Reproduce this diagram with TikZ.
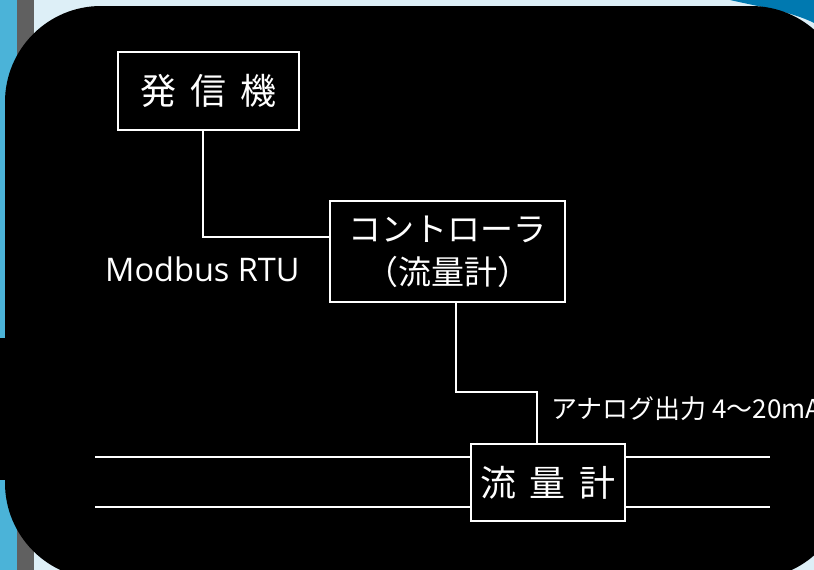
\documentclass[tikz,border=0pt]{standalone}
\usepackage{fontspec}
\newfontfamily\jp{Noto Sans CJK JP}
\newfontfamily\lat{Open Sans}
\usetikzlibrary{positioning}
\definecolor{skybg}{HTML}{DDEFF7}
\definecolor{stripblue}{HTML}{4BB3D8}
\definecolor{stripgrey}{HTML}{606060}
\definecolor{capblue}{HTML}{0079B0}
\newcommand{\jgap}{\hspace{14pt}}

\begin{document}
\begin{tikzpicture}[x=1pt, y=-1pt,
    box/.style={draw=white, line width=2.3pt, fill=black, text=white, inner sep=0pt},
    wire/.style={draw=white, line width=2pt},
    pipe/.style={draw=white, line width=1.7pt}]
    \useasboundingbox (0,0) rectangle (814,570);
    \clip (0,0) rectangle (814,570);

    % slide background
    \fill[skybg] (0,0) rectangle (814,570);
    \fill[stripblue] (0,0) rectangle (17,570);
    \fill[stripgrey] (17,0) rectangle (34,570);
    \fill[capblue] (730,0) .. controls (765,8) and (795,12) .. (820,26) -- (820,0) -- cycle;
    \fill[black, rounded corners=96pt] (5,6) rectangle (847,579);
    \fill[black] (0,338) rectangle (10,480);

    % pipe
    \coordinate (pipeAL) at (95,457);
    \coordinate (pipeAR) at (770,457);
    \coordinate (pipeBL) at (95,507);
    \coordinate (pipeBR) at (770,507);
    \draw[pipe] (pipeAL) -- (pipeAR);
    \draw[pipe] (pipeBL) -- (pipeBR);

    \node[box, minimum width=181pt, minimum height=78pt, font=\jp\fontsize{36}{40}\selectfont] (sender) at (208.5,91) {発\jgap 信\jgap 機};
    \node[box, minimum width=235pt, minimum height=101pt, align=center, font=\jp\fontsize{33}{43}\selectfont] (ctrl) at (447.5,251.5) {コントローラ\\（流量計）};
    \node[box, minimum width=154pt, minimum height=77pt, font=\jp\fontsize{36}{40}\selectfont] (meter) at (548,482.5) {流\jgap 量\jgap 計};

    \node[text=white, inner sep=0pt, anchor=base west, font=\lat\fontsize{32.5}{38}\selectfont] (modbus) at (105,281) {Modbus RTU};
    \node[text=white, inner sep=0pt, anchor=west, font=\jp\fontsize{26}{30}\selectfont] (analog) at (551,409) {アナログ出力 4～20mA};

    \coordinate (sendfoot) at ([xshift=-5.5pt]sender.south);
    \draw[wire] (sendfoot) |- ([yshift=14.5pt]ctrl.west);

    \coordinate (ctrlfoot) at ([xshift=8.5pt]ctrl.south);
    \coordinate (meterhead) at ([xshift=-11pt]meter.north);
    \draw[wire] (ctrlfoot) |- (meterhead |- 0,392) -- (meterhead);
\end{tikzpicture}
\end{document}
